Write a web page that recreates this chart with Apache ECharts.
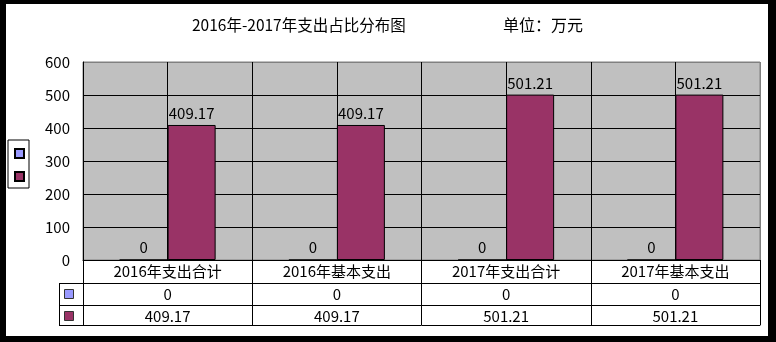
<!DOCTYPE html>
<html>
<head>
<meta charset="utf-8">
<script src="https://cdn.jsdelivr.net/npm/echarts@6/dist/echarts.min.js"></script>
<style>
  html, body { margin: 0; padding: 0; background: #000; }
  #wrap { position: relative; width: 776px; height: 342px; background: #000; overflow: hidden; }
  #paper { position: absolute; left: 6px; top: 4px; width: 762px; height: 332px; background: #fff; }
  #chart { position: absolute; left: 0; top: 0; width: 776px; height: 342px; }
</style>
</head>
<body>
<div id="wrap"><div id="paper"></div><div id="chart"></div></div>
<script>
// ---- data ----
const titleText = '2016年-2017年支出占比分布图';
const unitText = '单位：万元';
const categories = ['2016年支出合计', '2016年基本支出', '2017年支出合计', '2017年基本支出'];
const seriesNames = ['系列1', '系列2'];
const series1Values = [0, 0, 0, 0];
const series2Values = [409.17, 409.17, 501.21, 501.21];
const yMin = 0, yMax = 600, yStep = 100;
const seriesColors = ['#9999FF', '#993366'];

// ---- chart ----
const FONT = '"Noto Sans CJK SC", sans-serif';
const chart = echarts.init(document.getElementById('chart'), null, { renderer: 'canvas' });

const gridLeft = 83, gridTop = 62, gridRight = 16, gridBottom = 82;
const rowOffsets = [0, 23, 45, 65];

function fmt(v) { return String(v); }

const baseTableAxis = {
  type: 'category',
  gridIndex: 0,
  position: 'bottom',
  boundaryGap: true,
  axisLine: { show: true, onZero: false, lineStyle: { color: '#000', width: 1 } },
  axisTick: { show: true, alignWithLabel: false, interval: 0, lineStyle: { color: '#000', width: 1 } },
  splitLine: { show: false },
  axisLabel: { show: true, interval: 0, color: '#000', fontFamily: FONT, fontSize: 15, verticalAlign: 'middle' }
};

const option = {
  animation: false,
  textStyle: { fontFamily: FONT },
  title: [
    { text: titleText, left: 187, top: 12, textStyle: { fontFamily: FONT, fontSize: 15.5, fontWeight: 'normal', color: '#000' } },
    { text: unitText, left: 498, top: 12, textStyle: { fontFamily: FONT, fontSize: 16, fontWeight: 'normal', color: '#000' } }
  ],
  legend: {
    orient: 'vertical',
    left: 8,
    top: 140,
    data: seriesNames,
    icon: 'rect',
    itemWidth: 9,
    itemHeight: 9,
    itemGap: 12,
    padding: [8, 4, 6, 6],
    borderColor: '#000',
    borderWidth: 1,
    formatter: function () { return ''; },
    selectedMode: false
  },
  grid: {
    left: gridLeft, top: gridTop, right: gridRight, bottom: gridBottom,
    show: true, backgroundColor: '#C0C0C0', borderColor: '#808080', borderWidth: 1
  },
  xAxis: [
    Object.assign({}, baseTableAxis, {
      data: categories, offset: rowOffsets[0],
      axisTick: Object.assign({}, baseTableAxis.axisTick, { length: rowOffsets[1] - rowOffsets[0] }),
      axisLabel: Object.assign({}, baseTableAxis.axisLabel, { margin: (rowOffsets[1] - rowOffsets[0]) / 2 })
    }),
    Object.assign({}, baseTableAxis, {
      data: series1Values.map(fmt), offset: rowOffsets[1],
      axisTick: Object.assign({}, baseTableAxis.axisTick, { length: rowOffsets[2] - rowOffsets[1] }),
      axisLabel: Object.assign({}, baseTableAxis.axisLabel, { margin: (rowOffsets[2] - rowOffsets[1]) / 2 })
    }),
    Object.assign({}, baseTableAxis, {
      data: series2Values.map(fmt), offset: rowOffsets[2],
      axisTick: Object.assign({}, baseTableAxis.axisTick, { length: rowOffsets[3] - rowOffsets[2] }),
      axisLabel: Object.assign({}, baseTableAxis.axisLabel, { margin: (rowOffsets[3] - rowOffsets[2]) / 2 + 1 })
    }),
    Object.assign({}, baseTableAxis, {
      data: categories, offset: rowOffsets[3],
      axisTick: { show: false }, axisLabel: { show: false }
    }),
    {
      // vertical grid lines at category boundaries and centres
      type: 'value', gridIndex: 0, position: 'top', min: 0, max: categories.length * 2, interval: 1,
      axisLine: { show: false }, axisTick: { show: false }, axisLabel: { show: false },
      splitLine: { show: true, lineStyle: { color: ['#000', '#000', '#000', '#000', '#000', '#000', '#000', '#000', '#808080'], width: 1 } }
    }
  ],
  yAxis: {
    type: 'value', min: yMin, max: yMax, interval: yStep,
    axisLine: { show: true, lineStyle: { color: '#000', width: 1 } },
    axisTick: { show: false },
    axisLabel: { color: '#000', fontFamily: FONT, fontSize: 15, margin: 13 },
    splitLine: { show: true, lineStyle: { color: ['#000', '#000', '#000', '#000', '#000', '#000', '#808080'], width: 1 } }
  },
  series: [
    {
      name: seriesNames[0], type: 'bar', xAxisIndex: 0, data: series1Values,
      barWidth: 48, barGap: '0%',
      itemStyle: { color: seriesColors[0], borderColor: '#000', borderWidth: 1 },
      label: { show: true, position: 'top', distance: 5, color: '#000', fontFamily: FONT, fontSize: 15 }
    },
    {
      name: seriesNames[1], type: 'bar', xAxisIndex: 0, data: series2Values,
      barWidth: 48, barGap: '0%',
      itemStyle: { color: seriesColors[1], borderColor: '#000', borderWidth: 1 },
      label: { show: true, position: 'top', distance: 4, color: '#000', fontFamily: FONT, fontSize: 15 }
    }
  ]
};
chart.setOption(option);

// legend column of the data table (left of the plot)
const tableTop = 342 - gridBottom;
const y1 = tableTop + rowOffsets[1], y2 = tableTop + rowOffsets[2], y3 = tableTop + rowOffsets[3];
const colLeft = 59;
const swatch = 9;
chart.setOption({
  graphic: [
    { type: 'line', shape: { x1: colLeft + 0.5, y1: y1, x2: colLeft + 0.5, y2: y3 + 0.5 }, style: { stroke: '#000', lineWidth: 1 } },
    { type: 'line', shape: { x1: colLeft, y1: y1 + 0.5, x2: gridLeft, y2: y1 + 0.5 }, style: { stroke: '#000', lineWidth: 1 } },
    { type: 'line', shape: { x1: colLeft, y1: y2 + 0.5, x2: gridLeft, y2: y2 + 0.5 }, style: { stroke: '#000', lineWidth: 1 } },
    { type: 'line', shape: { x1: colLeft, y1: y3 + 0.5, x2: gridLeft, y2: y3 + 0.5 }, style: { stroke: '#000', lineWidth: 1 } },
    { type: 'rect', shape: { x: 64.5, y: Math.round((y1 + y2) / 2) - 4.5, width: swatch, height: swatch }, style: { fill: seriesColors[0], stroke: '#333', lineWidth: 1 } },
    { type: 'rect', shape: { x: 64.5, y: Math.round((y2 + y3) / 2) - 3.5, width: swatch, height: swatch }, style: { fill: seriesColors[1], stroke: '#333', lineWidth: 1 } }
  ]
});
</script>
</body>
</html>
